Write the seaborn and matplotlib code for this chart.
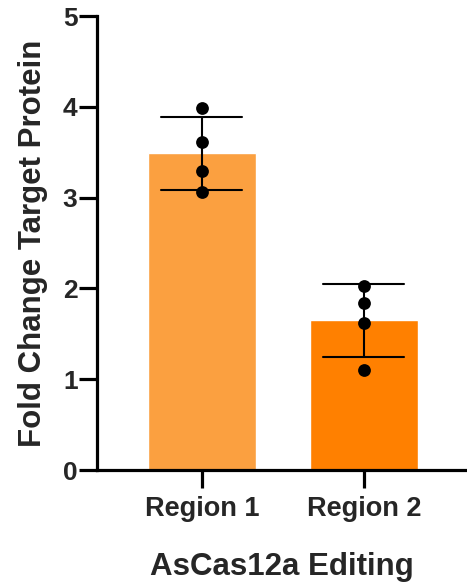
import matplotlib
matplotlib.use("Agg")
import matplotlib.pyplot as plt
import seaborn as sns
import pandas as pd

# Replicate measurements per editing region
regions = ["Region 1", "Region 2"]
region1_values = [3.99, 3.61, 3.29, 3.06]
region2_values = [2.03, 1.84, 1.62, 1.10]
bar_colors = ["#FBA040", "#FF8000"]
y_ticks = [0, 1, 2, 3, 4, 5]

df = pd.DataFrame({
    "Region": [regions[0]] * len(region1_values) + [regions[1]] * len(region2_values),
    "Fold": region1_values + region2_values,
})

sns.set_style("ticks")
plt.rcParams["font.family"] = ["Liberation Sans", "DejaVu Sans"]
plt.rcParams["font.weight"] = "bold"

fig = plt.figure(figsize=(4.67, 5.87), dpi=100)
ax = fig.add_axes([0.2077, 0.1993, 0.7923, 0.7734])

sns.barplot(data=df, x="Region", y="Fold", hue="Region", palette=bar_colors,
            order=regions, hue_order=regions, errorbar="sd", capsize=0.5,
            width=0.667, saturation=1,
            err_kws={"color": "black", "linewidth": 1.5},
            legend=False, ax=ax, zorder=1)
sns.stripplot(data=df, x="Region", y="Fold", order=regions, color="black",
              jitter=False, size=9.2, ax=ax, zorder=3)

ax.set_xlim(-0.648, 1.636)
ax.set_ylim(0, 5)
ax.set_yticks(y_ticks)
ax.set_yticklabels([str(t) for t in y_ticks])
ax.set_xlabel("AsCas12a Editing", fontsize=22.5, fontweight="bold", labelpad=21)
ax.set_ylabel("Fold Change Target Protein", fontsize=22.5, fontweight="bold", labelpad=11)

for side in ["top", "right"]:
    ax.spines[side].set_visible(False)
for side in ["left", "bottom"]:
    ax.spines[side].set_linewidth(2.3)
    ax.spines[side].set_color("black")

ax.tick_params(axis="both", width=2.3, length=13, color="black")
ax.tick_params(axis="y", labelsize=19, pad=1)
ax.tick_params(axis="x", labelsize=19.5, pad=6)
for lab in ax.get_xticklabels() + ax.get_yticklabels():
    lab.set_fontweight("bold")

fig.savefig("out.png", dpi=100)
